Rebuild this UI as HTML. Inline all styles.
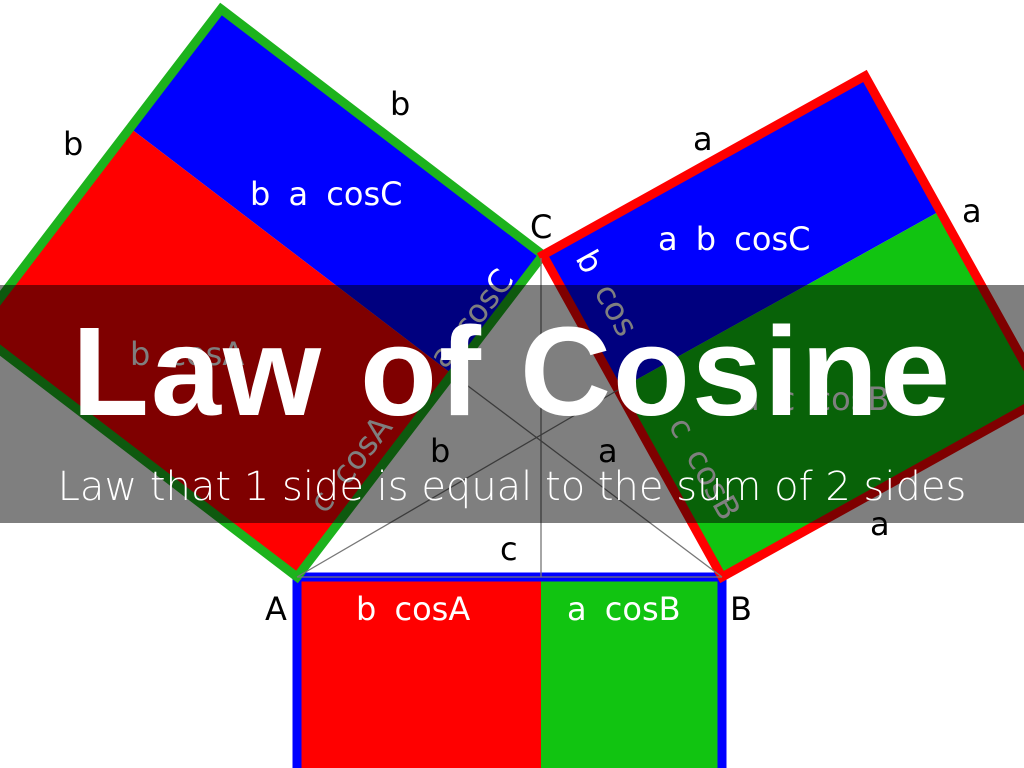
<!DOCTYPE html>
<html><head><meta charset="utf-8"><style>
html,body{margin:0;padding:0;background:#fff;}
svg{display:block}
.t{font-family:"DejaVu Sans","Liberation Sans",sans-serif;font-size:32px;word-spacing:8px;}
.w{fill:#fff}
.k{fill:#000}
</style></head><body>
<svg width="1024" height="768" viewBox="0 0 1024 768" xmlns="http://www.w3.org/2000/svg">
<rect width="1024" height="768" fill="#fff"/>
<rect x="297" y="577" width="244" height="200" fill="#ff0000"/>
<rect x="541" y="577" width="181" height="200" fill="#11c411"/>
<rect x="297" y="577" width="425" height="210" fill="none" stroke="#0000ff" stroke-width="9"/>
<polygon points="221,9 543,255 452,374 130,128" fill="#0000ff"/>
<polygon points="130,128 452,374 297,577 -25,331" fill="#ff0000"/>
<polygon points="221,9 543,255 297,577 -25,331" fill="none" stroke="#1db31d" stroke-width="9" stroke-linejoin="miter"/>
<polygon points="543,255 865,76 940,211 618,390" fill="#0000ff"/>
<polygon points="618,390 940,211 1044,398 722,577" fill="#11c411"/>
<polygon points="543,255 865,76 1044,398 722,577" fill="none" stroke="#ff0000" stroke-width="9"/>
<g stroke="#777" stroke-width="1.3">
<line x1="297" y1="577" x2="618" y2="390"/>
<line x1="722" y1="577" x2="452" y2="374"/>
<line x1="541" y1="258" x2="541" y2="577"/>
<line x1="297" y1="577" x2="722" y2="577"/>
</g>
<g class="t k">
<text x="63" y="155">b</text>
<text x="390" y="115">b</text>
<text x="693" y="150">a</text>
<text x="962" y="222">a</text>
<text x="870" y="535">a</text>
<text x="530" y="238">C</text>
<text x="265" y="620">A</text>
<text x="730" y="620">B</text>
<text x="500" y="560">c</text>
<text x="430" y="462">b</text>
<text x="598" y="462">a</text>
</g>
<g class="t w">
<text x="250" y="205">b a cosC</text>
<text x="658" y="250">a b cosC</text>
<text x="356" y="620">b cosA</text>
<text x="567" y="620">a cosB</text>
<text x="130" y="365">b cosA</text>
<text x="740" y="410">a c cosB</text>
<text transform="translate(445,370) rotate(-52)">a cosC</text>
<text transform="translate(325,515) rotate(-52)">c cosA</text>
<text transform="translate(575,258) rotate(61)">b cos</text>
<text transform="translate(668,425) rotate(61)">c cosB</text>
</g>
<rect x="0" y="285" width="1024" height="238" fill="rgba(0,0,0,0.5)"/>
<text x="512" y="415" text-anchor="middle" fill="#fff" style="font-family:'Liberation Sans',sans-serif;font-weight:bold;font-size:126px;letter-spacing:2px;">Law of Cosine</text>
<text x="512" y="500" text-anchor="middle" fill="#fff" style="font-family:'DejaVu Sans','Liberation Sans',sans-serif;font-weight:200;font-size:40px;">Law that 1 side is equal to the sum of 2 sides</text>
</svg>
</body></html>
